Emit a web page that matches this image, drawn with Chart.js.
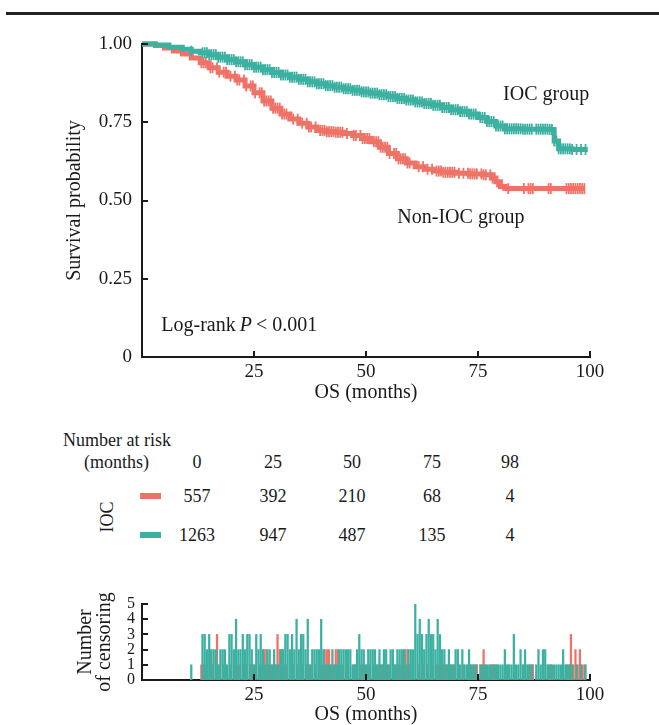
<!DOCTYPE html>
<html>
<head>
<meta charset="utf-8">
<script src="https://cdn.jsdelivr.net/npm/chart.js@4"></script>
<style>
body{margin:0;background:#fff;width:659px;height:725px;overflow:hidden;position:relative;font-family:'Liberation Serif','Times New Roman',serif;color:#1a1a1a}
#rule{position:absolute;left:6px;top:12px;width:653px;height:3px;background:#222}
canvas{position:absolute;left:0}
#km{top:0}
#cens{top:580px}
.t{position:absolute;font-size:18px;line-height:1;white-space:nowrap;transform:translate(-50%,-50%)}
.l{transform:translate(0,-50%)}
.bar{position:absolute;width:21px;height:6px}
</style>
</head>
<body>
<div id="rule"></div>
<canvas id="km" width="659" height="410"></canvas>
<div id="risk"></div>
<canvas id="cens" width="659" height="147"></canvas>
<script>
// Kaplan-Meier curves (month, survival probability)
iocMonths = [0,3,6,9,11,13,15,17,19,21,23,25,27,29,31,33,35,37,39,41,43,45,47,49,51,53,55,57,59,61,63,65,67,69,71,73,75,77,79,81,85,89,91,92,93,96,99.5]
iocSurv = [1,0.997,0.99,0.983,0.977,0.972,0.966,0.958,0.95,0.943,0.934,0.926,0.918,0.909,0.901,0.894,0.887,0.879,0.873,0.867,0.862,0.857,0.852,0.847,0.843,0.838,0.832,0.826,0.821,0.815,0.81,0.804,0.797,0.79,0.784,0.776,0.765,0.752,0.738,0.729,0.728,0.728,0.727,0.69,0.665,0.663,0.663]
nonMonths = [0,3,5,7,9,11,13,15,17,19,21,23,25,27,29,31,33,35,37,39,41,43,45,47,49,51,53,55,57,59,61,63,65,67,70,73,76,78,79,80,81,85,90,95,98.8]
nonSurv = [1,0.995,0.987,0.978,0.968,0.955,0.94,0.924,0.91,0.897,0.885,0.866,0.844,0.818,0.795,0.776,0.76,0.747,0.735,0.724,0.72,0.718,0.714,0.708,0.698,0.688,0.67,0.65,0.633,0.62,0.608,0.6,0.594,0.59,0.587,0.585,0.582,0.572,0.56,0.545,0.538,0.538,0.538,0.538,0.538]

// number at risk table
riskTimes = [0,25,50,75,98]
riskNon = [557,392,210,68,4]
riskIoc = [1263,947,487,135,4]

// number of censored patients, one value every half month
iocCensStart = 11
iocCens = [1,0,0,0,0,3,3,2,3,2, 2,2,1,2,2,2,1,3,3,2, 4,2,2,3,2,3,3,2,1,3, 2,3,2,1,2,2,1,2,1,1,
  2,2,3,3,2,3,2,4,2,3, 3,2,4,1,2,2,2,2,4,2, 1,1,1,2,1,1,2,2,2,2, 2,2,1,1,2,3,2,2,1,2,
  2,2,2,1,2,1,2,2,1,2, 2,1,2,2,2,2,1,2,2,2, 5,3,4,3,2,3,4,3,3,2, 4,3,2,2,1,2,1,1,2,2,
  1,2,1,1,2,1,1,1,0,1, 1,1,1,1,1,1,1,1,1,1, 2,1,1,1,3,1,1,2,1,2, 1,1,1,0,1,2,1,2,2,1,
  1,1,1,1,1,1,2,1,1,1, 1,0,1,0,1,0,1]
nonCensStart = 13.25
nonCens = [1,1,1,0,2,1,0,3,1,0, 1,1,0,1,0,1,1,1,0,1, 1,0,1,1,1,0,1,1,2,2, 1,1,1,1,3,2,2,1,1,0,
  0,1,0,1,0,1,0,1,1,1, 0,1,0,1,1,2,2,2,1,1, 2,2,1,1,0,1,0,0,1,1, 0,1,1,1,1,1,0,1,1,1,
  1,1,1,1,1,0,1,1,1,1, 1,2,2,1,0,0,0,1,0,1, 0,1,0,1,0,1,1,1,1,1, 1,1,1,1,0,1,0,1,0,1,
  1,1,1,1,0,1,2,1,0,1, 1,1,1,0,0,0,0,1,0,0, 0,0,0,0,1,0,1,1,1,0, 0,0,0,0,0,1,1,0,0,0,
  0,0,0,1,1,3,1,2,1,2, 1,1]
censStep = 0.5

tealColor = '#3cb1a1'
redColor = '#ef7266'
inkColor = '#1a1a1a'

Chart.defaults.font.family = "'Liberation Serif','Times New Roman',serif"
Chart.defaults.color = inkColor

// value of the step curve at a given month
survAt = function(months, surv, m){
    var v = surv[0]
    for (var i = 0; i < months.length; i++){
        if (months[i] <= m) v = surv[i]
    }
    return v
}
censPoints = function(start, counts){
    var pts = []
    counts.forEach(function(c, i){
        if (c > 0) pts.push({x: start + i*censStep, y: c})
    })
    return pts
}
curvePoints = function(months, surv){
    return months.map(function(m, i){ return {x: m, y: surv[i]} })
}
tickPoints = function(months, surv, start, counts){
    var last = months[months.length-1]
    return censPoints(start, counts).filter(function(p){ return p.x <= last })
        .map(function(p){ return {x: p.x, y: survAt(months, surv, p.x)} })
}

// short tick marks pointing into the plot
inTicks = {
    id: 'inTicks',
    afterDatasetsDraw: function(chart){
        var ctx = chart.ctx, a = chart.chartArea, xs = chart.scales.x, ys = chart.scales.y
        ctx.save()
        ctx.strokeStyle = inkColor
        ctx.lineWidth = 2
        ctx.beginPath()
        xs.ticks.forEach(function(t){
            if (t.value === 0) return
            var px = Math.round(xs.getPixelForValue(t.value))
            ctx.moveTo(px, a.bottom); ctx.lineTo(px, a.bottom - 6)
        })
        ys.ticks.forEach(function(t){
            if (t.value === 0) return
            var py = Math.round(ys.getPixelForValue(t.value))
            ctx.moveTo(a.left, py); ctx.lineTo(a.left + 6, py)
        })
        ctx.stroke()
        ctx.restore()
    }
}

notes = {
    id: 'notes',
    afterDraw: function(chart){
        var ctx = chart.ctx, xs = chart.scales.x, ys = chart.scales.y
        ctx.save()
        ctx.fillStyle = inkColor
        ctx.textBaseline = 'middle'
        ctx.textAlign = 'left'
        ctx.font = "20px 'Liberation Serif'"
        ctx.fillText('IOC group', xs.getPixelForValue(80.6), ys.getPixelForValue(0.838))
        ctx.fillText('Non-IOC group', xs.getPixelForValue(57), ys.getPixelForValue(0.445))
        var px = xs.getPixelForValue(4.3), py = ys.getPixelForValue(0.1)
        var s1 = 'Log-rank '
        ctx.fillText(s1, px, py)
        px += ctx.measureText(s1).width - 1
        ctx.font = "italic 20px 'Liberation Serif'"
        ctx.fillText('P', px, py)
        px += ctx.measureText('P').width + 4
        ctx.font = "20px 'Liberation Serif'"
        ctx.fillText('< 0.001', px, py)
        ctx.restore()
    }
}

axisLine = {display: true, color: inkColor, width: 2}
noGrid = {display: false, drawTicks: false, offset: false}
xTickLabel = function(v){ return v === 0 ? '' : v }

window.onload = function(){
    kmConfig = {
        type: 'line',
        data: {
            datasets: [
                {data: curvePoints(iocMonths, iocSurv), borderColor: tealColor, borderWidth: 5, stepped: true, pointRadius: 0, clip: false},
                {type: 'scatter', data: tickPoints(iocMonths, iocSurv, iocCensStart, iocCens), borderColor: tealColor, backgroundColor: tealColor,
                    pointStyle: 'line', rotation: 90, pointRadius: 5.5, borderWidth: 1.8, clip: false},
                {data: curvePoints(nonMonths, nonSurv), borderColor: redColor, borderWidth: 5, stepped: true, pointRadius: 0, clip: false},
                {type: 'scatter', data: tickPoints(nonMonths, nonSurv, nonCensStart, nonCens), borderColor: redColor, backgroundColor: redColor,
                    pointStyle: 'line', rotation: 90, pointRadius: 5.5, borderWidth: 1.8, clip: false}
            ]
        },
        options: {
            responsive: false, animation: false, devicePixelRatio: 1,
            layout: {padding: {left: 55, right: 69, top: 44, bottom: 0}},
            plugins: {legend: {display: false}, tooltip: {enabled: false}},
            scales: {
                x: {type: 'linear', min: 0, max: 100, grid: noGrid, border: axisLine,
                    ticks: {stepSize: 25, padding: 4, maxRotation: 0, autoSkip: false, font: {size: 19}, callback: xTickLabel},
                    title: {display: true, text: 'OS (months)', font: {size: 20}, padding: {top: 0, bottom: 5}},
                    afterFit: function(s){ s.height = 53 }},
                y: {min: 0, max: 1, grid: noGrid, border: axisLine,
                    ticks: {stepSize: 0.25, padding: 10, autoSkip: false, font: {size: 19}, callback: function(v){ return v === 0 ? '0' : v.toFixed(2) }},
                    title: {display: true, text: 'Survival probability', font: {size: 20}, padding: {top: 8, bottom: 0}},
                    afterFit: function(s){ s.width = 87 }}
            }
        },
        plugins: [inTicks, notes]
    }
    kmChart = new Chart(document.getElementById('km'), kmConfig)

    censConfig = {
        type: 'bar',
        data: {
            datasets: [
                {data: censPoints(iocCensStart, iocCens), backgroundColor: tealColor, barThickness: 1.6, grouped: false},
                {data: censPoints(nonCensStart, nonCens), backgroundColor: redColor, barThickness: 1.6, grouped: false}
            ]
        },
        options: {
            responsive: false, animation: false, devicePixelRatio: 1,
            layout: {padding: {left: 55, right: 69, top: 24, bottom: 0}},
            plugins: {legend: {display: false}, tooltip: {enabled: false}},
            scales: {
                x: {type: 'linear', min: 0, max: 100, offset: false, grid: noGrid, border: axisLine,
                    ticks: {stepSize: 25, padding: 4, maxRotation: 0, autoSkip: false, font: {size: 19}, callback: xTickLabel},
                    title: {display: true, text: 'OS (months)', font: {size: 20}, padding: {top: 0, bottom: 0}},
                    afterFit: function(s){ s.height = 47 }},
                y: {min: 0, max: 5, grid: noGrid, border: axisLine,
                    ticks: {stepSize: 1, padding: 7, autoSkip: false, font: {size: 16}},
                    title: {display: true, text: ['Number', 'of censoring'], font: {size: 20, lineHeight: 0.95}, padding: {top: 21, bottom: 0}},
                    afterFit: function(s){ s.width = 87 }}
            }
        },
        plugins: [inTicks]
    }
    censChart = new Chart(document.getElementById('cens'), censConfig)
}

// risk table, placed as plain text
riskColX = [197, 273, 352, 432, 510]
addText = function(txt, x, y, cls){
    var d = document.createElement('div')
    d.className = 't' + (cls ? ' ' + cls : '')
    d.textContent = txt
    d.style.left = x + 'px'
    d.style.top = y + 'px'
    document.getElementById('risk').appendChild(d)
    return d
}
addText('Number at risk', 63, 440, 'l')
addText('(months)', 84, 462, 'l')
riskTimes.forEach(function(t, i){
    addText(t, riskColX[i], 462)
    addText(riskNon[i], riskColX[i], 496)
    addText(riskIoc[i], riskColX[i], 535)
})
ioc = addText('IOC', 107, 517)
ioc.style.transform = 'translate(-50%,-50%) rotate(-90deg)'
;[[493, redColor], [532, tealColor]].forEach(function(b){
    var d = document.createElement('div')
    d.className = 'bar'
    d.style.left = '140px'
    d.style.top = b[0] + 'px'
    d.style.background = b[1]
    document.getElementById('risk').appendChild(d)
})
</script>
</body>
</html>
